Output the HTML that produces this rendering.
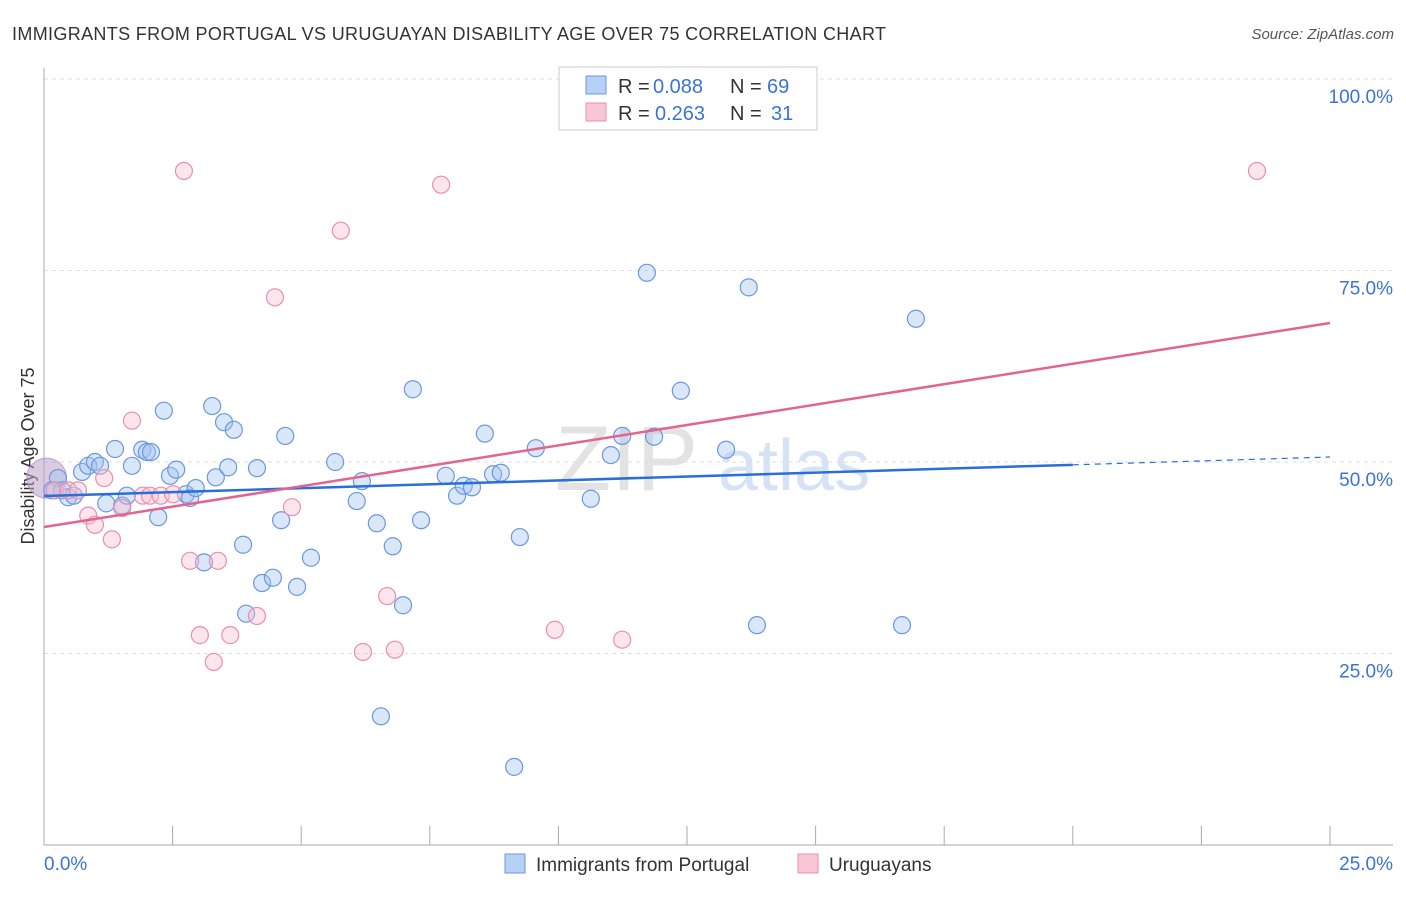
<!DOCTYPE html>
<html><head><meta charset="utf-8"><style>
body{margin:0;background:#fff;font-family:"Liberation Sans",sans-serif;}
svg text{font-family:"Liberation Sans",sans-serif;}
</style></head><body>
<svg id="c" width="1406" height="892" xmlns="http://www.w3.org/2000/svg">
<text x="12" y="40" font-size="18" fill="#333" textLength="874" lengthAdjust="spacing">IMMIGRANTS FROM PORTUGAL VS URUGUAYAN DISABILITY AGE OVER 75 CORRELATION CHART</text>
<text x="1394" y="39" font-size="15" fill="#555" text-anchor="end" font-style="italic">Source: ZipAtlas.com</text>
<text x="34" y="456" font-size="18" fill="#333" text-anchor="middle" transform="rotate(-90 34 456)">Disability Age Over 75</text>
<text x="555" y="490" font-size="92" fill="#e3e3e3" font-family="Liberation Serif">ZIP</text>
<text x="718" y="490" font-size="72" fill="#d6e3f5">atlas</text>
<g id="grid"></g><g id="pts"></g><g id="lines"></g>
<g>
<rect x="559" y="67" width="258" height="63" fill="#fff" stroke="#ccc"/>
<rect x="586" y="76" width="20" height="18" fill="#b7d0f5" stroke="#6a98e0"/>
<rect x="586" y="103" width="20" height="18" fill="#f9c6d6" stroke="#ea8fae"/>
<text x="618" y="93" font-size="20" fill="#333">R =</text>
<text x="653" y="93" font-size="20" fill="#3b73d6">0.088</text>
<text x="730" y="93" font-size="20" fill="#333">N =</text>
<text x="767" y="93" font-size="20" fill="#3b73d6">69</text>
<text x="618" y="120" font-size="20" fill="#333">R =</text>
<text x="655" y="120" font-size="20" fill="#3b73d6">0.263</text>
<text x="730" y="120" font-size="20" fill="#333">N =</text>
<text x="771" y="120" font-size="20" fill="#3b73d6">31</text>
</g>
<g>
<rect x="505" y="854" width="20" height="19" fill="#b7d0f5" stroke="#6a98e0"/>
<text x="536" y="871" font-size="19" fill="#333">Immigrants from Portugal</text>
<rect x="798" y="854" width="20" height="19" fill="#f9c6d6" stroke="#ea8fae"/>
<text x="829" y="871" font-size="19" fill="#333">Uruguayans</text>
</g>
</svg>
<script>
const blueX=[.27,.35,.47,.58,.74,.86,.99,1.09,1.21,1.38,1.52,1.61,1.71,1.91,2.00,2.08,2.22,2.33,2.45,2.57,2.76,2.84,2.95,3.11,3.27,3.34,3.50,3.58,3.69,3.87,3.93,4.14,4.24,4.45,4.61,4.69,4.92,5.19,5.66,6.08,6.18,6.47,6.55,6.78,6.98,7.17,7.33,7.81,8.03,8.16,8.32,8.57,8.73,8.88,9.14,9.25,9.56,10.63,11.02,11.24,11.72,11.86,12.38,13.26,13.70,13.86,16.68,16.95,.16];
const blueY=[47.9,46.3,45.4,45.6,48.7,49.5,50.0,49.5,44.6,51.7,44.3,45.6,49.5,51.6,51.3,51.3,42.8,56.7,48.2,49.0,45.8,45.3,46.6,36.9,57.3,48.0,55.2,49.3,54.2,39.2,30.2,49.2,34.2,34.9,42.4,53.4,33.7,37.5,50.0,44.9,47.5,42.0,16.8,39.0,31.3,59.5,42.4,48.2,45.6,46.9,46.7,53.7,48.4,48.6,10.2,40.2,51.8,45.2,50.9,53.4,74.7,53.3,59.3,51.6,72.8,28.7,28.7,68.7,46.3];
const pinkX=[.21,.47,.66,.86,.99,1.17,1.32,1.52,1.71,1.92,2.06,2.27,2.51,2.72,2.84,3.03,3.30,3.38,3.62,4.14,4.49,4.82,5.77,6.20,6.67,6.82,7.72,9.93,11.24,23.58];
const pinkY=[46.3,46.3,46.3,43.0,41.8,47.9,39.9,44.0,55.4,45.6,45.6,45.6,45.8,88.0,37.1,27.4,23.9,37.1,27.4,29.9,71.5,44.1,80.2,25.2,32.5,25.5,86.2,28.1,26.8,88.0];
const bigX=[0.05], bigY=[47.9];
const blueFit=[45.56,50.65], pinkFit=[41.51,68.15];
const yTicks=[25,50,75,100], yTickLabels=["25.0%","50.0%","75.0%","100.0%"];
const xTicks=[0,2.5,5,7.5,10,12.5,15,17.5,20,22.5,25];
const NS="http://www.w3.org/2000/svg";
const X0=44,X1=1330,Y0=845,YH=79;
const sx=v=>X0+(X1-X0)*v/25, sy=v=>Y0-(Y0-YH)*v/100;
function mk(tag,attrs,parent){const e=document.createElementNS(NS,tag);for(const k in attrs)e.setAttribute(k,attrs[k]);document.getElementById(parent).appendChild(e);return e;}
yTicks.forEach((t,i)=>{
 let g=mk('line',{x1:X0,x2:1393,y1:sy(t),y2:sy(t),stroke:'#ddd','stroke-dasharray':'4,4'},'grid');
 
 
 let l=mk('text',{x:1393,y:sy(t)+24,'font-size':19,fill:'#3b73d6','text-anchor':'end'},'grid');
 l.textContent=yTickLabels[i];
 
 
});
let ax=mk('line',{x1:X0,x2:X0,y1:68,y2:Y0,stroke:'#aaa'},'grid');


let bx=mk('line',{x1:X0,x2:1393,y1:Y0,y2:Y0,stroke:'#aaa'},'grid');


xTicks.forEach(t=>{let k=mk('line',{x1:sx(t),x2:sx(t),y1:826,y2:Y0,stroke:'#aaa'},'grid');
 
 });
let xl0=mk('text',{x:44,y:870,'font-size':19,fill:'#3b73d6'},'grid');xl0.textContent='0.0%';


let xl1=mk('text',{x:1393,y:870,'font-size':19,fill:'#3b73d6','text-anchor':'end'},'grid');xl1.textContent='25.0%';


bigX.forEach((v,i)=>{let c=mk('circle',{cx:sx(v),cy:sy(bigY[i]),r:20,fill:'rgba(190,160,200,0.55)',stroke:'rgba(170,130,190,0.7)'},'pts');
 
 });
blueX.forEach((v,i)=>{let c=mk('circle',{cx:sx(v),cy:sy(blueY[i]),r:8.5,fill:'rgba(160,195,240,0.4)',stroke:'#6a98e0','stroke-width':1.2},'pts');
 
 });
pinkX.forEach((v,i)=>{let c=mk('circle',{cx:sx(v),cy:sy(pinkY[i]),r:8.5,fill:'rgba(248,190,210,0.4)',stroke:'#ea8fae','stroke-width':1.2},'pts');
 
 });
const bAt=x=>blueFit[0]+(blueFit[1]-blueFit[0])*x/25;
let bl=mk('line',{x1:sx(0),y1:sy(bAt(0)),x2:sx(20),y2:sy(bAt(20)),stroke:'#2a6fd6','stroke-width':2.5},'lines');


let bd=mk('line',{x1:sx(20),y1:sy(bAt(20)),x2:sx(25),y2:sy(bAt(25)),stroke:'#2a6fd6','stroke-width':1.2,'stroke-dasharray':'6,5'},'lines');


let pl=mk('line',{x1:sx(0),y1:sy(pinkFit[0]),x2:sx(25),y2:sy(pinkFit[1]),stroke:'#e2648f','stroke-width':2.5},'lines');


</script>
</body></html>
